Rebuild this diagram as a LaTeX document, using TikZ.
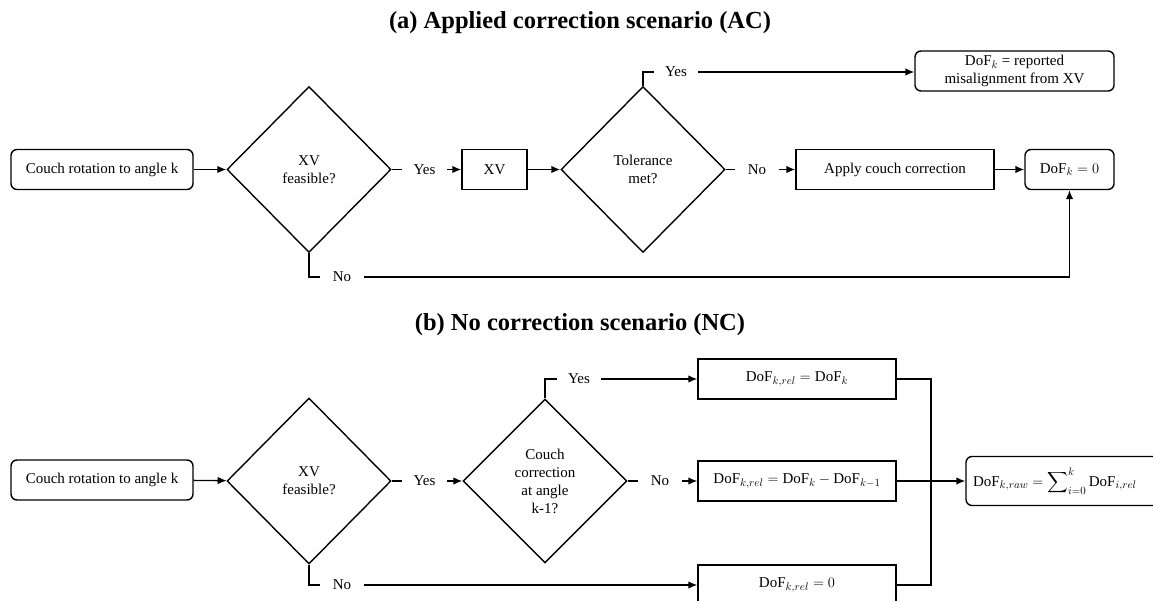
\documentclass[tikz,border=0pt]{standalone}
\usepackage{amsmath}
\usepackage{fontspec}
\setmainfont{Liberation Serif}
\usetikzlibrary{shapes,arrows,arrows.meta,positioning}

\tikzset{
  flowbox/.style={draw, line width=1.4pt, minimum height=40pt, inner sep=0pt, align=center, font=\fontsize{15}{18}\selectfont},
  roundbox/.style={flowbox, rounded corners=6pt},
  decision/.style={draw, diamond, line width=1.4pt, inner sep=0pt, align=center, minimum width=164pt, minimum height=166pt, font=\fontsize{15}{18}\selectfont},
  answer/.style={minimum width=44pt, inner sep=0pt, font=\fontsize{15}{18}\selectfont},
  heading/.style={font=\fontsize{24.5}{28}\selectfont\bfseries},
  flow/.style={line width=1.4pt, ->, >={Latex[length=9pt,width=7.5pt]}},
  link/.style={line width=1.4pt}
}

\begin{document}
\begin{tikzpicture}[x=1pt,y=-1pt]

\useasboundingbox (0,0) rectangle (1153,601);

\def\rowA{169.5}
\def\rowB{481}

%% (a) applied correction
\node[heading] (titleA) at (580,23) {(a) Applied correction scenario (AC)};

\node[roundbox, minimum width=182pt] (couchA) at (102,\rowA) {Couch rotation to angle k};
\node[decision] (feasA) at (309,\rowA) {XV\\feasible?};
\node[answer] (yesA1) at (424.5,\rowA) {Yes};
\node[flowbox, minimum width=65pt] (xvA) at (494.5,\rowA) {XV};
\node[decision] (tolA) at (643,\rowA) {Tolerance\\met?};
\node[answer] (yesA2) at (676,72) {Yes};
\node[roundbox, minimum width=199pt] (repA) at (1014.5,71) {$\mathrm{DoF}_k$ = reported\\misalignment from XV};
\node[answer] (noA1) at (757,\rowA) {No};
\node[flowbox, minimum width=198pt] (applyA) at (895,\rowA) {Apply couch correction};
\node[roundbox, minimum width=89pt] (zeroA) at (1069.5,\rowA) {$\mathrm{DoF}_k = 0$};
\node[answer] (noA2) at (342,277) {No};

\draw[flow] (couchA) -- (feasA);
\draw[link] (feasA.east) -- (yesA1.west);
\draw[flow] (yesA1.east) -- (xvA);
\draw[flow] (xvA) -- (tolA);
\draw[link] (tolA.north) |- (yesA2.west);
\draw[flow] (yesA2.east) -- (repA.west |- yesA2);
\draw[link] (tolA.east) -- (noA1.west);
\draw[flow] (noA1.east) -- (applyA);
\draw[flow] (applyA) -- (zeroA);
\draw[link] (feasA.south) |- (noA2.west);
\draw[flow] (noA2.east) -| (zeroA.south);

%% (b) no correction
\node[heading] (titleB) at (580,325) {(b) No correction scenario (NC)};

\node[roundbox, minimum width=182pt] (couchB) at (102,480) {Couch rotation to angle k};
\node[decision] (feasB) at (309,\rowB) {XV\\feasible?};
\node[answer] (yesB1) at (424.5,\rowB) {Yes};
\node[decision, minimum height=164pt] (decB) at (545,\rowB) {Couch\\correction\\at angle\\k-1?};
\node[answer] (yesB2) at (579,379) {Yes};
\node[answer] (noB1) at (660,\rowB) {No};
\node[answer] (noB2) at (342,585) {No};

\foreach \lbl/\ypos [count=\ni] in {
  {$\mathrm{DoF}_{k,rel} = \mathrm{DoF}_k$}/379,
  {$\mathrm{DoF}_{k,rel} = \mathrm{DoF}_k - \mathrm{DoF}_{k-1}$}/\rowB,
  {$\mathrm{DoF}_{k,rel} = 0$}/585}
  \node[flowbox, minimum width=198pt] (relB\ni) at (797,\ypos) {\lbl};

\node[roundbox, minimum width=200pt, minimum height=49pt, text width=186pt, align=left] (rawB) at (1066,\rowB)
  {$\mathrm{DoF}_{k,raw} = \displaystyle\sum\nolimits_{i=0}^{k}\mathrm{DoF}_{i,rel}$};
\coordinate (mergeB) at (931,\rowB);

\draw[flow] (couchB) -- (feasB);
\draw[link] (feasB.east) -- (yesB1.west);
\draw[flow] (yesB1.east) -- (decB);
\draw[link] (decB.north) |- (yesB2.west);
\draw[flow] (yesB2.east) -- (relB1);
\draw[link] (decB.east) -- (noB1.west);
\draw[flow] (noB1.east) -- (relB2);
\draw[link] (feasB.south) |- (noB2.west);
\draw[flow] (noB2.east) -- (relB3);

%% gather the three branches
\draw[link] (relB1.east) -| (mergeB);
\draw[link] (relB3.east) -| (mergeB);
\draw[flow] (relB2) -- (rawB);

\end{tikzpicture}
\end{document}
